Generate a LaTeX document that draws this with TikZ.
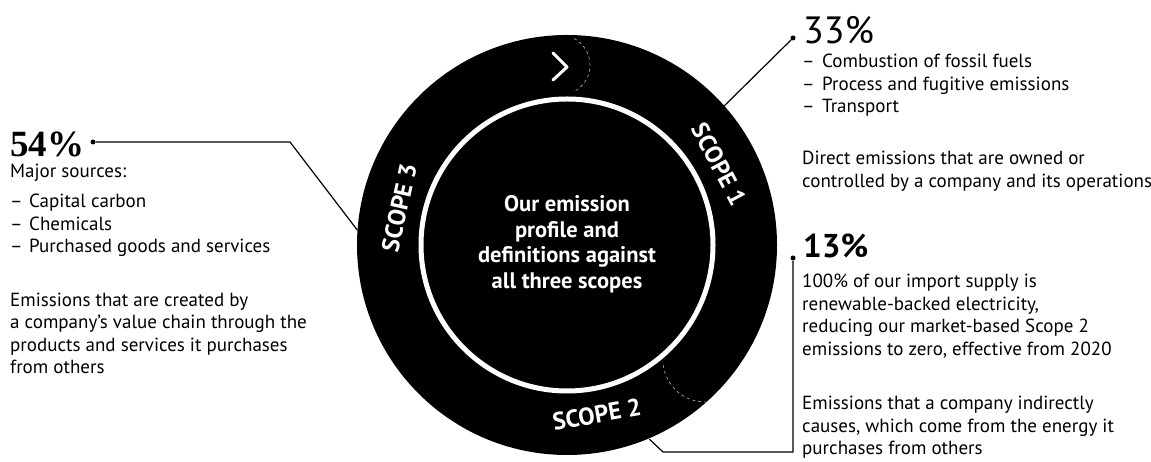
\documentclass[tikz,border=0pt]{standalone}
\usepackage{fontspec}
\setmainfont{PT Sans}
\newfontfamily\pctfont{Liberation Serif}
\usetikzlibrary{calc}

\begin{document}
\begin{tikzpicture}[x=1pt,y=1pt,
  body/.style={anchor=base west,inner sep=0pt,align=left,font=\fontsize{19}{22.5}\selectfont},
  scopelabel/.style={text=white,inner sep=0pt,font=\fontsize{24.5}{25}\selectfont\bfseries},
  leader/.style={line width=1.2pt},
  dot/.style={circle,fill,inner sep=0pt,minimum size=5pt},
  guide/.style={gray!55,line width=0.6pt,dash pattern=on 3pt off 3pt}]

\useasboundingbox (0,0) rectangle (1151,462);

% the ring
\coordinate (c) at (567,217);
\fill (c) circle[radius=210];
\draw[white,line width=5pt] (c) circle[radius=146];
\draw[white,line width=3pt,line cap=round,line join=round] (553,409) -- (567,395) -- (553,382);
\draw[guide] (560,397) ++(62:30) arc[start angle=62,end angle=-60,radius=30];
\draw[guide] (705,102) ++(187:42) arc[start angle=187,end angle=272,radius=42];

\node[text=white,align=center,font=\fontsize{22.5}{25.5}\selectfont\bfseries] (title) at (567,218)
  {Our emission\\profile and\\definitions against\\all three scopes};

\node[scopelabel,rotate=77.5] (s3) at ($(c)+(167.5:172)$) {SCOPE 3};
\node[scopelabel,rotate=-62] (s1) at ($(c)+(28:172)$) {SCOPE 1};
\node[scopelabel,rotate=10] (s2) at ($(c)+(-80:172)$) {SCOPE 2};

% scope 3 (base = last line)
\node[body,font=\pctfont\bfseries\fontsize{37}{37}\selectfont] (pct3) at (10,305) {54\%};
\node[body] (major3) at (10,284) {Major sources:};
\node[body] (list3) at (10,209) {\makebox[19pt][l]{--}Capital carbon\\
  \makebox[19pt][l]{--}Chemicals\\
  \makebox[19pt][l]{--}Purchased goods and services};
\node[body] (def3) at (10,88) {Emissions that are created by\\
  a company’s value chain through the\\
  products and services it purchases\\
  from others};

% scope 1
\node[body,font=\fontsize{38}{38}\selectfont] (pct1) at (803,418) {33\%};
\node[body] (list1) at (802,349) {\makebox[20pt][l]{--}Combustion of fossil fuels\\
  \makebox[20pt][l]{--}Process and fugitive emissions\\
  \makebox[20pt][l]{--}Transport};
\node[body] (def1) at (802,274.5) {Direct emissions that are owned or\\
  controlled by a company and its operations};

% scope 2
\node[body,font=\fontsize{33}{33}\selectfont\bfseries] (pct2) at (803,204) {13\%};
\node[body] (text2) at (802,106.5) {100\% of our import supply is\\
  renewable-backed electricity,\\
  reducing our market-based Scope 2\\
  emissions to zero, effective from 2020};
\node[body] (def2) at (802,7) {Emissions that a company indirectly\\
  causes, which come from the energy it\\
  purchases from others};

% leaders
\node[dot] (d3) at (93,320) {};
\coordinate (k3) at (290,320);
\coordinate (e3) at ($(c)+(176:210)$);
\draw[leader] (d3) -- (k3) -- (e3);

\node[dot] (d1) at (793,424) {};
\coordinate (e1) at ($(c)+(41.5:210)$);
\draw[leader] (d1) -- (e1);

\node[dot] (d2) at (793,204) {};
\coordinate (k2a) at (793,10);
\coordinate (k2b) at (663,10);
\coordinate (e2) at ($(c)+(-67:211)$);
\draw[leader] (d2) -- (k2a) -- (k2b) -- (e2);

\end{tikzpicture}
\end{document}
